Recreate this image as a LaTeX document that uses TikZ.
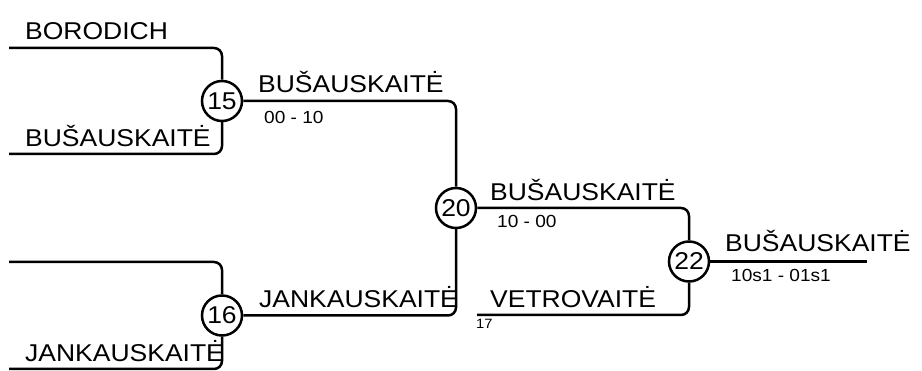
\documentclass[tikz,border=0pt]{standalone}
\usepackage{fontspec}
\setmainfont{Liberation Sans}[FakeStretch=1.09]
\begin{document}
\begin{tikzpicture}[x=1pt,y=-1pt,
  wire/.style={line width=2.5pt,rounded corners=8pt},
  matchcirc/.style={draw,circle,line width=2.5pt,minimum size=40pt,inner sep=0pt,fill=white,font=\fontsize{24.3}{28}\selectfont},
  player/.style={anchor=base west,inner sep=0pt,font=\fontsize{24.3}{28}\selectfont},
  scoretxt/.style={anchor=base west,inner sep=0pt,font=\fontsize{17.5}{20}\selectfont},
  seedtxt/.style={anchor=base west,inner sep=0pt,font=\fontsize{13.5}{16}\selectfont}]
\useasboundingbox (0,0) rectangle (922,371);
% free ends
\coordinate (a1) at (9,48);
\coordinate (a2) at (9,154);
\coordinate (a3) at (9,262);
\coordinate (a4) at (9,369);
\coordinate (a5) at (477,315);
\coordinate (a6) at (867,261.5);
% match circles
\node[matchcirc] (c15) at (222,101) {15};
\node[matchcirc] (c16) at (222,315.5) {16};
\node[matchcirc] (c20) at (456,208) {20};
\node[matchcirc] (c22) at (689,261.5) {22};
% connectors
\draw[wire] (a1) -| (c15.north);
\draw[wire] (a2) -| (c15.south);
\draw[wire] (a3) -| (c16.north);
\draw[wire] (a4) -| (c16.south);
\draw[wire] (c15.east) -| (c20.north);
\draw[wire] (c16.east) -| (c20.south);
\draw[wire] (c20.east) -| (c22.north);
\draw[wire] (a5) -| (c22.south);
\draw[wire] (c22.east) -- (a6);
% labels
\node[player] (t1) at (25,40) {BORODICH};
\node[player] (t2) at (25,147) {BUŠAUSKAITĖ};
\node[player] (t3) at (258,93) {BUŠAUSKAITĖ};
\node[scoretxt] (s1) at (264,124) {00 - 10};
\node[player] (t4) at (25,362) {JANKAUSKAITĖ};
\node[player] (t5) at (259,308) {JANKAUSKAITĖ};
\node[player] (t6) at (490,201) {BUŠAUSKAITĖ};
\node[scoretxt] (s2) at (497,228) {10 - 00};
\node[player] (t7) at (490,308) {VETROVAITĖ};
\node[seedtxt] (s3) at (476,329) {17};
\node[player] (t8) at (725,252) {BUŠAUSKAITĖ};
\node[scoretxt] (s4) at (731,282) {10s1 - 01s1};
\end{tikzpicture}
\end{document}
